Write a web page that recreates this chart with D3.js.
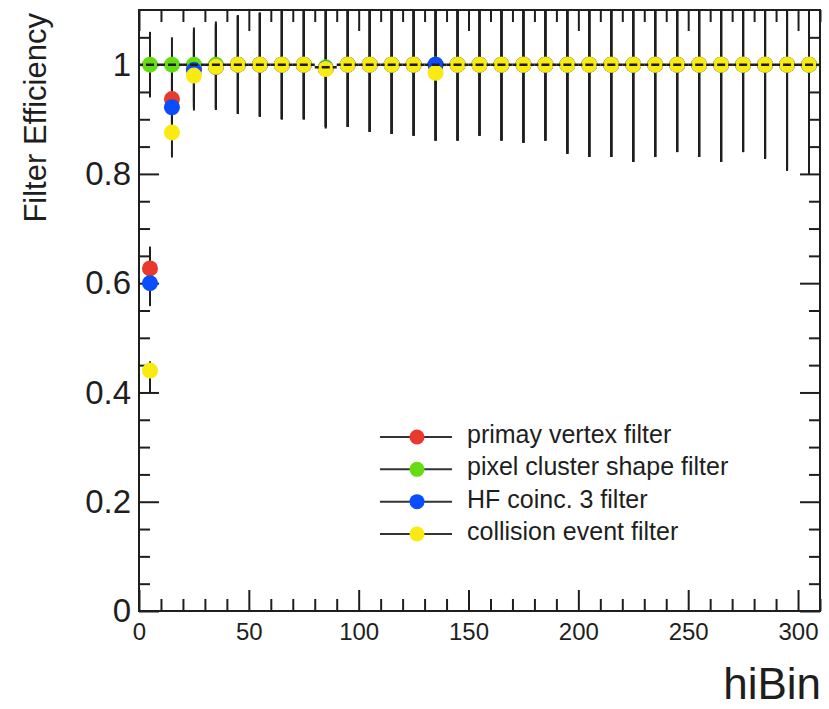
<!DOCTYPE html>
<html>
<head>
<meta charset="utf-8">
<script src="https://cdn.jsdelivr.net/npm/d3@7"></script>
<style>
  html, body { margin: 0; padding: 0; background: #ffffff; }
  svg { display: block; font-family: "Liberation Sans", Arial, Helvetica, sans-serif; }
</style>
</head>
<body>
<svg id="chart" width="829" height="709"></svg>
<script>
// ---------------- data ----------------
const binCenters = [5, 15, 25, 35, 45, 55, 65, 75, 85, 95, 105, 115, 125, 135, 145, 155,
                    165, 175, 185, 195, 205, 215, 225, 235, 245, 255, 265, 275, 285, 295, 305];
const binHalfWidth = 5;

const effVertex    = [0.627, 0.937, 0.993, 0.996, 1, 1, 1, 1, 0.993, 1, 1, 1, 1, 1, 1, 1,
                      1, 1, 1, 1, 1, 1, 1, 1, 1, 1, 1, 1, 1, 1, 1];
const effPixel     = [1, 1, 1, 1, 1, 1, 1, 1, 0.995, 1, 1, 1, 1, 1, 1, 1,
                      1, 1, 1, 1, 1, 1, 1, 1, 1, 1, 1, 1, 1, 1, 1];
const effHF        = [0.600, 0.922, 0.990, 0.996, 1, 1, 1, 1, 0.993, 1, 1, 1, 1, 1, 1, 1,
                      1, 1, 1, 1, 1, 1, 1, 1, 1, 1, 1, 1, 1, 1, 1];
const effCollision = [0.440, 0.876, 0.980, 0.996, 1, 1, 1, 1, 0.992, 1, 1, 1, 1, 0.985, 1, 1,
                      1, 1, 1, 1, 1, 1, 1, 1, 1, 1, 1, 1, 1, 1, 1];

const errVertex    = [0.040, 0.060, 0.070, 0.079, 0.090, 0.095, 0.100, 0.100, 0.107, 0.114, 0.123, 0.127, 0.130, 0.139, 0.139, 0.130,
                      0.139, 0.143, 0.139, 0.163, 0.169, 0.169, 0.178, 0.169, 0.160, 0.169, 0.178, 0.160, 0.172, 0.194, 0.200];
const errPixel     = [0.060, 0.050, 0.068, 0.079, 0.090, 0.095, 0.100, 0.100, 0.112, 0.114, 0.123, 0.127, 0.130, 0.139, 0.139, 0.130,
                      0.139, 0.143, 0.139, 0.163, 0.169, 0.169, 0.178, 0.169, 0.160, 0.169, 0.178, 0.160, 0.172, 0.194, 0.200];
const errHF        = [0.042, 0.060, 0.070, 0.079, 0.090, 0.095, 0.100, 0.100, 0.107, 0.114, 0.123, 0.127, 0.130, 0.139, 0.139, 0.130,
                      0.139, 0.143, 0.139, 0.163, 0.169, 0.169, 0.178, 0.169, 0.160, 0.169, 0.178, 0.160, 0.172, 0.194, 0.200];
const errCollisionLow  = [0.040, 0.046, 0.064, 0.075, 0.090, 0.095, 0.100, 0.100, 0.107, 0.114, 0.123, 0.127, 0.130, 0.124, 0.139, 0.130,
                          0.139, 0.143, 0.139, 0.163, 0.169, 0.169, 0.178, 0.169, 0.160, 0.169, 0.178, 0.160, 0.172, 0.194, 0.200];
const errCollisionHigh = [0.017, 0.046, 0.064, 0.075, 0.090, 0.095, 0.100, 0.100, 0.107, 0.114, 0.123, 0.127, 0.130, 0.124, 0.139, 0.130,
                          0.139, 0.143, 0.139, 0.163, 0.169, 0.169, 0.178, 0.169, 0.160, 0.169, 0.178, 0.160, 0.172, 0.194, 0.200];

const seriesNames  = ["primay vertex filter", "pixel cluster shape filter", "HF coinc. 3 filter", "collision event filter"];
const seriesColors = ["#e8392c", "#66dd12", "#0a4dff", "#f9ea12"];

const xMajorTicks = [0, 50, 100, 150, 200, 250, 300];
const xMinorTicks = [10, 20, 30, 40, 60, 70, 80, 90, 110, 120, 130, 140, 160, 170, 180, 190,
                     210, 220, 230, 240, 260, 270, 280, 290, 310];
const yMajorTicks = [0, 0.2, 0.4, 0.6, 0.8, 1.0];
const yMinorTicks = [0.05, 0.1, 0.15, 0.25, 0.3, 0.35, 0.45, 0.5, 0.55, 0.65, 0.7, 0.75,
                     0.85, 0.9, 0.95, 1.05];

const xTitle = "hiBin";
const yTitle = "Filter Efficiency";

// --------------- build series table ---------------
const effs = [effVertex, effPixel, effHF, effCollision];
const errsLow = [errVertex, errPixel, errHF, errCollisionLow];
const errsHigh = [errVertex, errPixel, errHF, errCollisionHigh];
const series = seriesNames.map((name, s) => ({
  name, color: seriesColors[s],
  points: binCenters.map((b, i) => ({ x: b, y: effs[s][i], lo: errsLow[s][i], hi: errsHigh[s][i] }))
}));

// --------------- layout ---------------
const svg = d3.select("#chart");
const L = 139, R = 820, T = 10, B = 611;
const x = d3.scaleLinear().domain([0, 310]).range([L, R]);
const y = d3.scaleLinear().domain([0, 1.1]).range([B, T]);
const ink = "#1e1e1e";

svg.append("defs").append("clipPath").attr("id", "plotclip")
  .append("rect").attr("x", L).attr("y", T).attr("width", R - L).attr("height", B - T);

// --------------- axes ---------------
function styleAxis(g) {
  g.select(".domain").remove();
  g.selectAll(".tick line").attr("stroke", ink).attr("stroke-width", 2);
  g.selectAll(".tick text").attr("fill", ink);
}
// bottom
svg.append("g").attr("transform", `translate(0,${B})`)
  .call(d3.axisBottom(x).tickValues(xMajorTicks).tickSize(-21).tickPadding(12).tickFormat(d3.format("d")))
  .call(styleAxis)
  .call(g => g.selectAll(".tick text").attr("font-size", 24).attr("font-family", "Liberation Sans, Arial, sans-serif"));
svg.append("g").attr("transform", `translate(0,${B})`)
  .call(d3.axisBottom(x).tickValues(xMinorTicks).tickSize(-12).tickFormat(""))
  .call(styleAxis);
// top
svg.append("g").attr("transform", `translate(0,${T})`)
  .call(d3.axisTop(x).tickValues(xMajorTicks).tickSize(-21).tickFormat(""))
  .call(styleAxis);
svg.append("g").attr("transform", `translate(0,${T})`)
  .call(d3.axisTop(x).tickValues(xMinorTicks).tickSize(-12).tickFormat(""))
  .call(styleAxis);
// left
svg.append("g").attr("transform", `translate(${L},0)`)
  .call(d3.axisLeft(y).tickValues(yMajorTicks).tickSize(-20).tickPadding(8).tickFormat(d3.format("~g")))
  .call(styleAxis)
  .call(g => g.selectAll(".tick text").attr("font-size", 33).attr("font-family", "Liberation Sans, Arial, sans-serif"));
svg.append("g").attr("transform", `translate(${L},0)`)
  .call(d3.axisLeft(y).tickValues(yMinorTicks).tickSize(-11).tickFormat(""))
  .call(styleAxis);
// right
svg.append("g").attr("transform", `translate(${R},0)`)
  .call(d3.axisRight(y).tickValues(yMajorTicks).tickSize(-20).tickFormat(""))
  .call(styleAxis);
svg.append("g").attr("transform", `translate(${R},0)`)
  .call(d3.axisRight(y).tickValues(yMinorTicks).tickSize(-11).tickFormat(""))
  .call(styleAxis);

// frame
svg.append("rect").attr("x", L).attr("y", T).attr("width", R - L).attr("height", B - T)
  .attr("fill", "none").attr("stroke", ink).attr("stroke-width", 2);

// --------------- data marks ---------------
const plot = svg.append("g").attr("clip-path", "url(#plotclip)");

// vertical error bars (all series, under markers)
series.forEach(s => {
  plot.append("g").selectAll("line").data(s.points).join("line")
    .attr("x1", d => x(d.x)).attr("x2", d => x(d.x))
    .attr("y1", d => y(d.y - d.lo)).attr("y2", d => y(d.y + d.hi))
    .attr("stroke", ink).attr("stroke-width", 2);
});

// markers
series.forEach(s => {
  plot.append("g").selectAll("circle").data(s.points).join("circle")
    .attr("cx", d => x(d.x)).attr("cy", d => y(d.y)).attr("r", 8)
    .attr("fill", s.color);
});

// horizontal (bin-width) error bars of the pixel-cluster series, drawn on top
plot.append("g").selectAll("line").data(series[1].points).join("line")
  .attr("x1", d => x(d.x - binHalfWidth)).attr("x2", d => x(d.x + binHalfWidth))
  .attr("y1", d => y(d.y)).attr("y2", d => y(d.y))
  .attr("stroke", ink).attr("stroke-width", 2.5)
  .attr("stroke-dasharray", "4,3,8,3,4");

// --------------- titles ---------------
svg.append("text")
  .attr("transform", `translate(46,${T + 3}) rotate(-90)`)
  .attr("text-anchor", "end")
  .attr("font-size", 31)
  .attr("fill", ink)
  .text(yTitle);

svg.append("text")
  .attr("x", 821).attr("y", 699)
  .attr("text-anchor", "end")
  .attr("font-size", 44)
  .attr("fill", ink)
  .text(xTitle);

// --------------- legend ---------------
const legend = svg.append("g");
const legendY = d3.scalePoint().domain(seriesNames).range([437, 534]);
series.forEach(s => {
  const ly = legendY(s.name);
  legend.append("line").attr("x1", 380).attr("x2", 452).attr("y1", ly).attr("y2", ly)
    .attr("stroke", "#333").attr("stroke-width", 2);
  legend.append("circle").attr("cx", 417).attr("cy", ly).attr("r", 7.5).attr("fill", s.color);
  legend.append("text").attr("x", 467).attr("y", ly + 6)
    .attr("font-size", 25).attr("fill", ink).text(s.name);
});
</script>
</body>
</html>
